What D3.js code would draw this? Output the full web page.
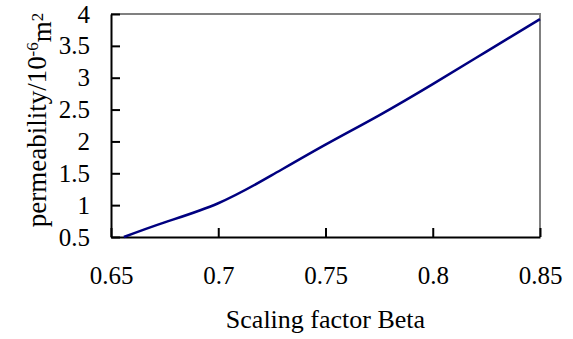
<!DOCTYPE html>
<html>
<head>
<meta charset="utf-8">
<script src="https://cdn.jsdelivr.net/npm/d3@7"></script>
<style>
  body { margin: 0; background: #fff; }
  svg text { font-family: "Liberation Serif", "Times New Roman", serif; fill: #000; }
</style>
</head>
<body>
<div id="wrapper"></div>
<script>
// values
const beta = [0.656, 0.675, 0.7, 0.725, 0.75, 0.775, 0.8, 0.825, 0.85]
const permeability = [0.5, 0.73, 1.03, 1.47, 1.95, 2.41, 2.9, 3.41, 3.92]
const xTicks = [0.65, 0.7, 0.75, 0.8, 0.85]
const yTicks = [0.5, 1, 1.5, 2, 2.5, 3, 3.5, 4]

const width = 573
const height = 339
const margin = { top: 14, right: 33, bottom: 102, left: 111 }
const boundWidth = width - margin.left - margin.right
const boundHeight = height - margin.top - margin.bottom

const serif = "'Liberation Serif', 'Times New Roman', serif"

const svg = d3.select("#wrapper").append("svg")
    .attr("width", width)
    .attr("height", height)
    .attr("font-family", serif)

const bound = svg.append("g")
    .attr("transform", `translate(${margin.left},${margin.top})`)

const x = d3.scaleLinear().domain([0.65, 0.85]).range([0, boundWidth])
const y = d3.scaleLinear().domain([0.5, 4]).range([boundHeight, 0])

// top and right frame in grey
bound.append("path")
    .attr("d", `M0,0H${boundWidth}V${boundHeight}`)
    .attr("fill", "none")
    .attr("stroke", "#808080")
    .attr("stroke-width", 2)

// axes with inward ticks
const xAxis = bound.append("g")
    .attr("transform", `translate(0,${boundHeight})`)
    .call(d3.axisBottom(x).tickValues(xTicks).tickSizeInner(-9).tickSizeOuter(0).tickPadding(29).tickFormat(d3.format("")))
const yAxis = bound.append("g")
    .call(d3.axisLeft(y).tickValues(yTicks).tickSizeInner(-9).tickSizeOuter(0).tickPadding(21).tickFormat(d3.format("")))

for (const ax of [xAxis, yAxis]) {
    ax.attr("font-family", serif).attr("font-size", 25)
    ax.select(".domain").attr("stroke", "#000").attr("stroke-width", 2)
    ax.selectAll(".tick line").attr("stroke", "#000").attr("stroke-width", 2)
    ax.selectAll("text").attr("fill", "#000")
}
xAxis.selectAll("text").attr("dy", "0.71em")

// data line
const line = d3.line()
    .x((d, i) => x(beta[i]))
    .y(d => y(d))
    .curve(d3.curveNatural)

bound.append("path")
    .datum(permeability)
    .attr("d", line)
    .attr("fill", "none")
    .attr("stroke", "#000080")
    .attr("stroke-width", 2.5)

// axis titles
svg.append("text")
    .attr("x", margin.left + boundWidth / 2)
    .attr("y", 328)
    .attr("text-anchor", "middle")
    .attr("font-size", 26)
    .text("Scaling factor Beta")

const yTitle = svg.append("text")
    .attr("transform", `translate(46,120) rotate(-90)`)
    .attr("text-anchor", "middle")
    .attr("font-size", 27)
yTitle.append("tspan").text("permeability/10")
yTitle.append("tspan").attr("dy", "-0.5em").attr("font-size", 17).text("-6")
yTitle.append("tspan").attr("dy", "0.5em").text("m")
yTitle.append("tspan").attr("dy", "-0.5em").attr("font-size", 17).text("2")
</script>
</body>
</html>
